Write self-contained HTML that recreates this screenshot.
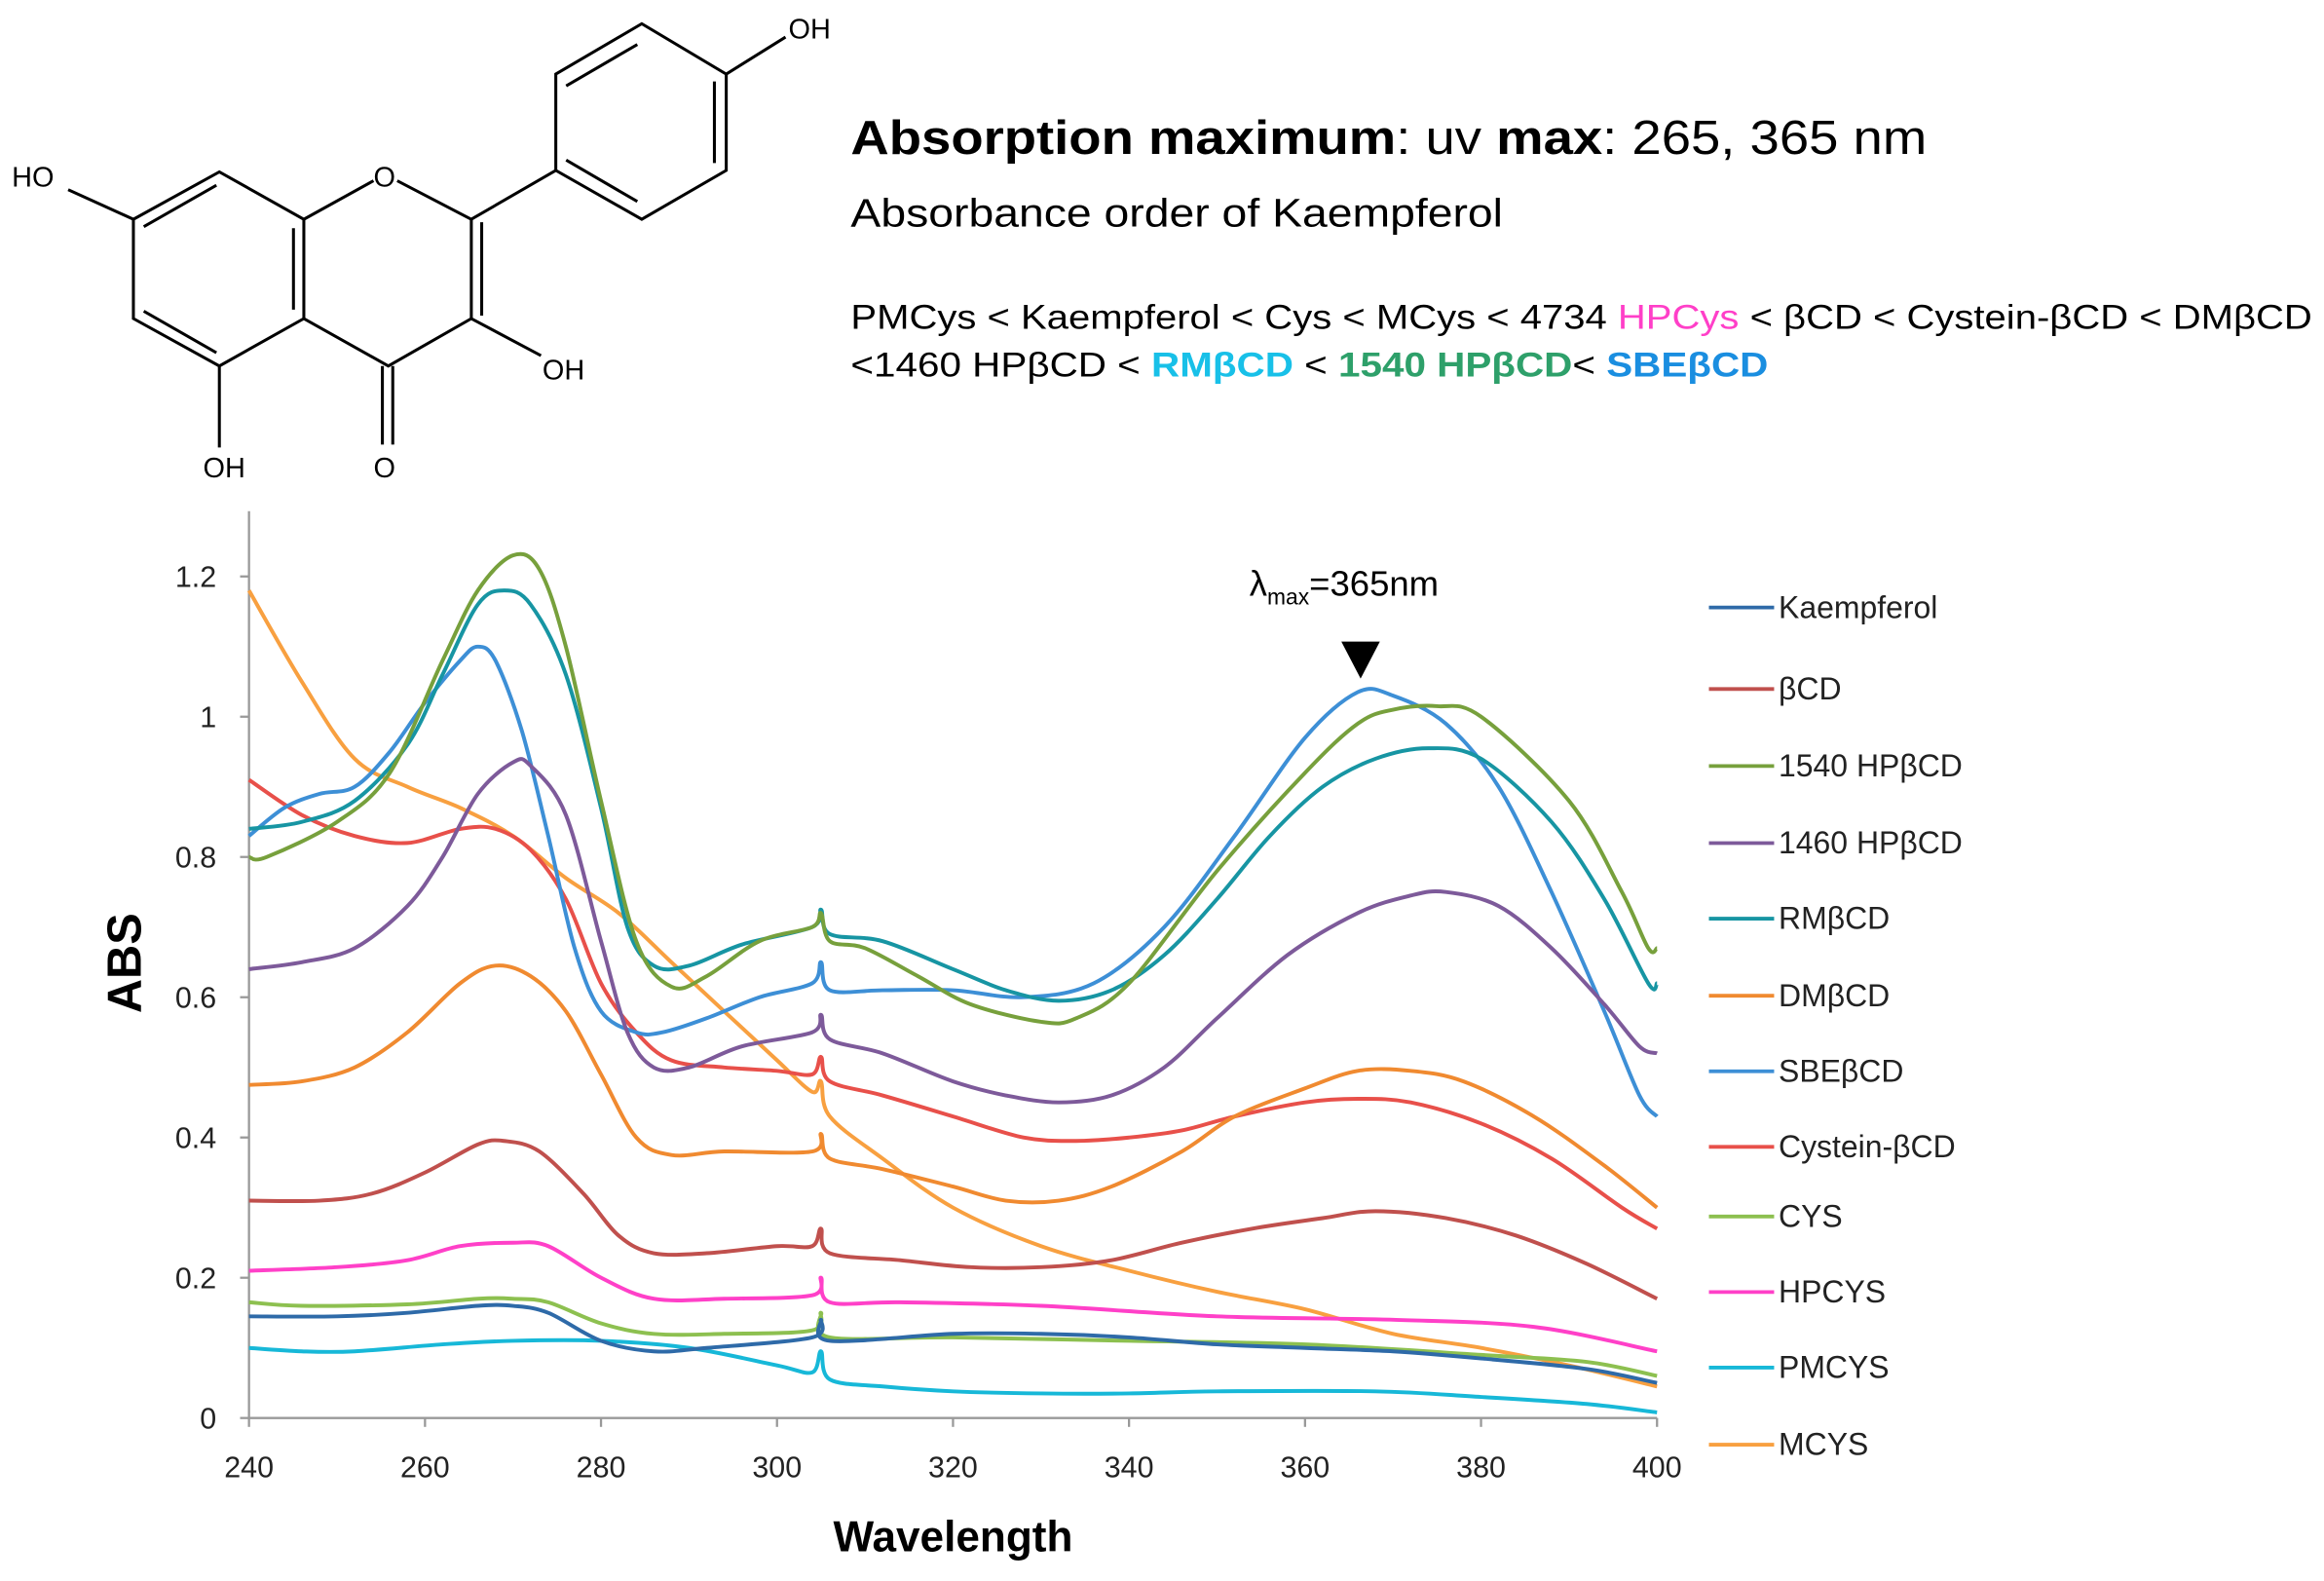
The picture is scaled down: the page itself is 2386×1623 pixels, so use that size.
<!DOCTYPE html>
<html><head><meta charset="utf-8">
<style>
html,body{margin:0;padding:0;background:#fff;}
svg{display:block;}
text{font-family:"Liberation Sans",sans-serif;}
</style></head><body>
<svg id="s" width="2386" height="1623" viewBox="0 0 1568 1067" preserveAspectRatio="none" xmlns="http://www.w3.org/2000/svg">
<rect width="1568" height="1067" fill="#fff"/>
<g stroke="#000" stroke-width="2" fill="none">
<polyline points="46,128 90,148 90,215 148,247 205,215 205,148 148,116 90,148"/>
<line x1="97" y1="153" x2="146" y2="125"/>
<line x1="97" y1="210" x2="146" y2="238"/>
<line x1="198" y1="154" x2="198" y2="209"/>
<polyline points="205,148 252,122"/>
<polyline points="268,122 318,148 318,215 262,247 205,215"/>
<line x1="325" y1="150" x2="325" y2="213"/>
<line x1="318" y1="215" x2="365" y2="240"/>
<line x1="148" y1="247" x2="148" y2="302"/>
<line x1="258" y1="247" x2="258" y2="300"/>
<line x1="265" y1="247" x2="265" y2="300"/>
<line x1="318" y1="148" x2="375" y2="115"/>
<polygon points="375,115 375,50 433,16 490,50 490,115 433,148"/>
<line x1="382" y1="58" x2="430" y2="30"/>
<line x1="482" y1="55" x2="482" y2="110"/>
<line x1="382" y1="108" x2="430" y2="136"/>
<line x1="490" y1="50" x2="530" y2="25"/>
</g>
<g font-size="19" fill="#000" font-family="Liberation Sans, sans-serif">
<text x="8" y="126">HO</text>
<text x="252" y="126">O</text>
<text x="532" y="26">OH</text>
<text x="366" y="256">OH</text>
<text x="137" y="322">OH</text>
<text x="252" y="322">O</text>
</g>
<text x="574" y="104" font-size="32" textLength="726" lengthAdjust="spacingAndGlyphs"><tspan font-weight="bold">Absorption  maximum</tspan>: uv <tspan font-weight="bold">max</tspan>: 265,  365  nm</text>
<text x="574" y="153" font-size="27" textLength="440" lengthAdjust="spacingAndGlyphs">Absorbance order of Kaempferol</text>
<text x="574" y="222" font-size="23" textLength="986" lengthAdjust="spacingAndGlyphs">PMCys &lt; Kaempferol &lt; Cys &lt; MCys &lt; 4734 <tspan fill="#ff3fc8">HPCys</tspan> &lt; βCD &lt; Cystein-βCD &lt; DMβCD</text>
<text x="574" y="254" font-size="23" textLength="619" lengthAdjust="spacingAndGlyphs">&lt;1460 HPβCD &lt; <tspan fill="#18c0e8" font-weight="bold">RMβCD</tspan> &lt; <tspan fill="#2ea06a" font-weight="bold">1540 HPβCD</tspan>&lt; <tspan fill="#1a8ee0" font-weight="bold">SBEβCD</tspan></text>
<g stroke="#999" stroke-width="1.5">
<line x1="168" y1="345" x2="168" y2="957"/>
<line x1="168" y1="957" x2="1118" y2="957"/>
</g>
<g id="ticks" stroke="#999" stroke-width="1.5"></g>
<g id="labels" font-size="20" fill="#222"></g>
<text x="95" y="650" font-size="32" font-weight="bold" text-anchor="middle" transform="rotate(-90 95 650)">ABS</text>
<text x="643" y="1047" font-size="29" font-weight="bold" text-anchor="middle">Wavelength</text>
<text x="843" y="402" font-size="24">λ<tspan font-size="15" dy="6">max</tspan><tspan dy="-6">=365nm</tspan></text>
<polygon points="905,433 931,433 918,458" fill="#000"/>
<g id="series" fill="none" stroke-width="2.6" stroke-linejoin="round"></g>
<g id="legend" font-size="21" fill="#222"></g>
</svg>
<script>
var X=function(w){return 168+(w-240)*950/160;},Y=function(v){return 957-v*473.3;};
var NS="http://www.w3.org/2000/svg";
function el(p,t,a,txt){var e=document.createElementNS(NS,t);for(var k in a)e.setAttribute(k,a[k]);if(txt)e.textContent=txt;document.getElementById(p).appendChild(e);}
for(var v=0;v<=1.2001;v+=0.2){var y=Y(v);el("ticks","line",{x1:162,y1:y,x2:168,y2:y});el("labels","text",{x:146,y:y+7,"text-anchor":"end"},v<0.01?"0":(Math.abs(v-1)<0.01?"1":v.toFixed(1)));}
for(var w=240;w<=400;w+=20){var x=X(w);el("ticks","line",{x1:x,y1:957,x2:x,y2:963});el("labels","text",{x:x,y:997,"text-anchor":"middle"},""+w);}
function P(s){var a=s.trim().split(/\s+/).map(function(t){var q=t.split(":");return [X(+q[0]),Y(+q[1])];});
var d="M"+a[0][0].toFixed(1)+","+a[0][1].toFixed(1);
for(var i=0;i<a.length-1;i++){var p0=a[i-1]||a[i],p1=a[i],p2=a[i+1],p3=a[i+2]||p2;
var c1=[p1[0]+(p2[0]-p0[0])/6,p1[1]+(p2[1]-p0[1])/6],c2=[p2[0]-(p3[0]-p1[0])/6,p2[1]-(p3[1]-p1[1])/6];
d+="C"+c1[0].toFixed(1)+","+c1[1].toFixed(1)+" "+c2[0].toFixed(1)+","+c2[1].toFixed(1)+" "+p2[0].toFixed(1)+","+p2[1].toFixed(1);}
return d;}
var S=[
["MCYS","#f8a040","240:1.18 246:1.05 252:0.94 258:0.9 264:0.87 270:0.83 276:0.77 282:0.72 288:0.65 294:0.58 300:0.51 304:0.465 305:0.48 306:0.43 312:0.37 320:0.30 330:0.245 340:0.21 350:0.18 360:0.155 370:0.12 380:0.10 390:0.075 400:0.045"],
["PMCYS","#17b8d8","240:0.10 246:0.095 252:0.095 262:0.105 270:0.11 280:0.11 290:0.10 300:0.075 304:0.065 305:0.095 306:0.055 312:0.045 320:0.038 330:0.035 340:0.035 350:0.038 368:0.038 380:0.03 392:0.02 400:0.008"],
["HPCYS","#ff40c8","240:0.21 250:0.215 258:0.225 264:0.245 270:0.25 274:0.245 280:0.2 286:0.17 294:0.17 304:0.175 305:0.2 306:0.165 314:0.165 330:0.16 350:0.145 370:0.14 386:0.13 400:0.095"],
["CYS","#8dc050","240:0.165 246:0.16 258:0.162 266:0.17 270:0.17 274:0.165 280:0.135 286:0.12 294:0.12 304:0.125 305:0.15 306:0.115 320:0.115 340:0.11 360:0.105 380:0.09 392:0.08 400:0.06"],
["Cystein-βCD","#e8504a","240:0.91 246:0.86 252:0.83 258:0.82 264:0.84 268:0.84 272:0.81 276:0.74 280:0.62 284:0.55 288:0.51 294:0.50 300:0.495 304:0.49 305:0.515 306:0.48 312:0.46 320:0.43 328:0.40 334:0.395 340:0.40 346:0.41 352:0.43 360:0.45 366:0.455 372:0.45 380:0.42 388:0.37 396:0.30 400:0.27"],
["SBEβCD","#3d8fd6","240:0.83 244:0.87 248:0.89 252:0.90 256:0.95 260:1.02 264:1.08 266:1.10 268:1.08 271:0.98 274:0.83 277:0.67 280:0.58 284:0.55 287:0.55 292:0.57 298:0.60 304:0.62 305:0.65 306:0.61 312:0.61 320:0.61 328:0.60 336:0.62 344:0.70 352:0.83 360:0.97 366:1.035 370:1.03 376:0.99 382:0.90 388:0.75 394:0.58 398:0.46 400:0.43"],
["DMβCD","#f08a30","240:0.475 246:0.48 252:0.50 258:0.55 264:0.62 268:0.645 272:0.63 276:0.58 280:0.49 284:0.40 288:0.375 294:0.38 304:0.38 305:0.405 306:0.37 312:0.355 320:0.33 326:0.31 332:0.31 338:0.33 346:0.38 352:0.43 360:0.47 366:0.495 372:0.495 378:0.48 386:0.43 394:0.36 400:0.30"],
["RMβCD","#1795a3","240:0.84 246:0.85 252:0.88 258:0.96 262:1.06 266:1.16 269:1.18 272:1.16 276:1.06 280:0.87 283:0.70 286:0.645 290:0.645 296:0.675 304:0.70 305:0.725 306:0.69 312:0.68 320:0.64 326:0.61 332:0.595 338:0.61 344:0.66 350:0.74 356:0.83 362:0.90 368:0.94 374:0.955 380:0.94 388:0.85 394:0.74 399:0.62 400:0.62"],
["1460 HPβCD","#7d5a9a","240:0.64 246:0.65 252:0.67 258:0.73 262:0.80 266:0.89 270:0.935 272:0.93 276:0.86 280:0.68 283:0.55 286:0.50 290:0.50 296:0.53 304:0.55 305:0.575 306:0.54 312:0.52 320:0.48 326:0.46 332:0.45 338:0.46 344:0.50 350:0.57 358:0.66 366:0.72 372:0.745 376:0.75 382:0.73 388:0.67 394:0.59 398:0.53 400:0.52"],
["1540 HPβCD","#77a03c","240:0.80 242:0.80 250:0.85 256:0.92 262:1.08 266:1.18 270:1.23 273:1.21 276:1.1 280:0.88 284:0.68 288:0.615 292:0.63 298:0.68 304:0.70 305:0.72 306:0.68 310:0.67 316:0.63 322:0.59 330:0.565 334:0.57 340:0.62 350:0.78 360:0.92 366:0.99 370:1.01 375:1.015 380:1.0 390:0.88 396:0.75 399:0.67 400:0.67"],
["βCD","#c0504d","240:0.31 248:0.31 254:0.32 260:0.35 266:0.39 269:0.395 273:0.38 278:0.32 282:0.26 286:0.235 292:0.235 300:0.245 304:0.245 305:0.27 306:0.235 314:0.225 322:0.215 330:0.215 338:0.225 346:0.25 354:0.27 362:0.285 368:0.295 376:0.285 384:0.26 392:0.22 400:0.17"],
["Kaempferol","#2e6aa8","240:0.145 250:0.145 258:0.15 266:0.16 270:0.16 274:0.15 280:0.11 286:0.095 292:0.1 304:0.115 305:0.14 306:0.11 320:0.12 330:0.12 340:0.115 350:0.105 360:0.10 370:0.095 380:0.085 392:0.07 400:0.05"]
];
S.forEach(function(s){el("series","path",{d:P(s[2]),stroke:s[1]});});
var L=[["Kaempferol","#2e6aa8",410],["βCD","#c0504d",465],["1540 HPβCD","#77a03c",517],["1460 HPβCD","#7d5a9a",569],["RMβCD","#1795a3",620],["DMβCD","#f08a30",672],["SBEβCD","#3d8fd6",723],["Cystein-βCD","#e8504a",774],["CYS","#8dc050",821],["HPCYS","#ff40c8",872],["PMCYS","#17b8d8",923],["MCYS","#f8a040",975]];
L.forEach(function(l){el("legend","line",{x1:1153,y1:l[2],x2:1197,y2:l[2],stroke:l[1],"stroke-width":2.5});el("legend","text",{x:1200,y:l[2]+7},l[0]);});
</script>
</body></html>
